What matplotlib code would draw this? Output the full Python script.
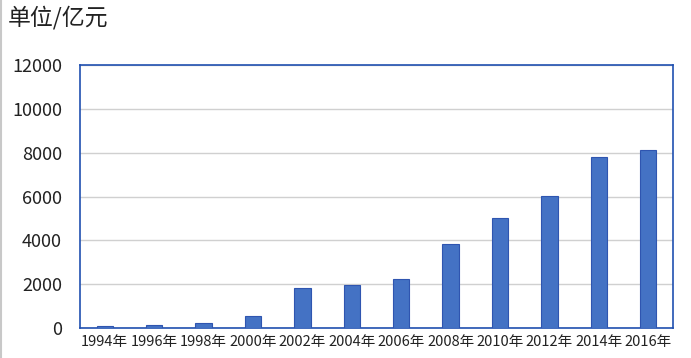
import matplotlib
matplotlib.use("Agg")
import matplotlib.pyplot as plt

plt.rcParams['font.family'] = ['Noto Sans CJK SC', 'DejaVu Sans']

years = ["1994年", "1996年", "1998年", "2000年", "2002年", "2004年",
         "2006年", "2008年", "2010年", "2012年", "2014年", "2016年"]
values = [80, 130, 240, 540, 1830, 1940, 2240, 3830, 5030, 6020, 7810, 8110]
yticks = [0, 2000, 4000, 6000, 8000, 10000, 12000]

fig = plt.figure(figsize=(6.91, 3.58), dpi=100)
ax = fig.add_axes([80/691, 1 - 328/358, 593/691, 263/358])

x = list(range(len(years)))
ax.bar(x, values, width=0.33, color="#4472C4", edgecolor="#2F55B0", linewidth=0.8, zorder=3)

ax.set_xlim(-0.5, len(years) - 0.5)
ax.set_ylim(0, 12000)
ax.set_yticks(yticks)
ax.set_yticklabels([str(v) for v in yticks], fontsize=13, color="#222222")
ax.set_xticks(x)
ax.set_xticklabels(years, fontsize=10.5, color="#222222")
ax.tick_params(axis='y', length=0, pad=13)
ax.tick_params(axis='x', length=0, pad=5)
ax.grid(axis='y', color="#D0D0D0", linewidth=1, zorder=0)
for s in ax.spines.values():
    s.set_color("#2050B0")
    s.set_linewidth(1.2)

fig.text(8/691, 1 - 18/358, "单位/亿元", fontsize=16.5, color="#222222", va="center", ha="left")

# light frame line on the left edge of the image
fig.add_artist(plt.Line2D([0.5/691, 0.5/691], [0, 1], color="#C8C8C8", linewidth=1.5, transform=fig.transFigure))

fig.savefig("out.png", dpi=100)
